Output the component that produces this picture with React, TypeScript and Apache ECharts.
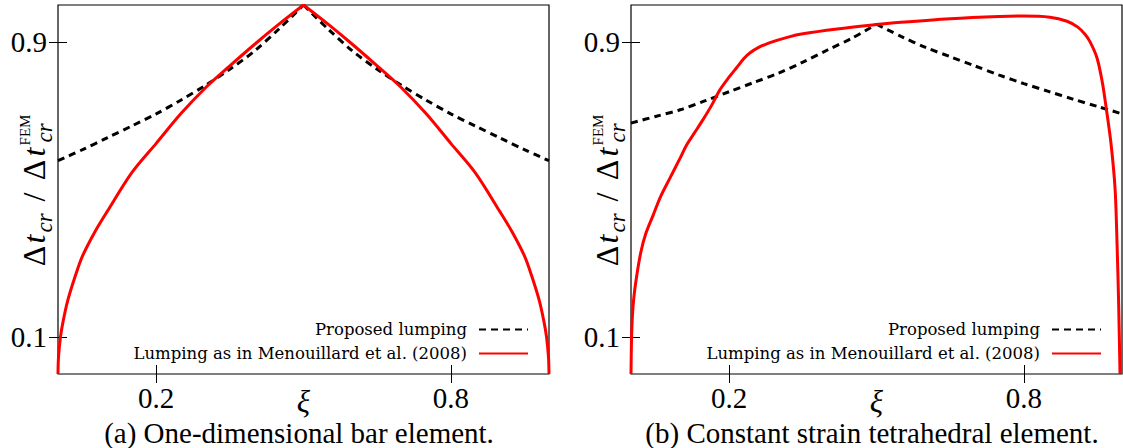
import React, { useEffect, useRef } from 'react';
import * as echarts from 'echarts';

// ---- tick labels / texts ----
const xTicks = [0.2, 0.8];
const yTicks = [0.1, 0.9];
const seriesNames = ['Proposed lumping', 'Lumping as in Menouillard et al. (2008)'];
const captions = ['(a) One-dimensional bar element.', '(b) Constant strain tetrahedral element.'];
const xName = 'ξ';

// ---- panel (a): one-dimensional bar element ----
const barProposedXi = [0, 0.05, 0.1, 0.15, 0.2, 0.25, 0.3, 0.35, 0.4, 0.45, 0.5, 0.55, 0.6, 0.65, 0.7, 0.75, 0.8, 0.85, 0.9, 0.95, 1];
const barProposed = [0.578, 0.608, 0.64, 0.672, 0.705, 0.742, 0.782, 0.826, 0.875, 0.935, 1.0, 0.935, 0.875, 0.826, 0.782, 0.742, 0.705, 0.672, 0.64, 0.608, 0.578];
const barMenXi = [0, 0.001, 0.005, 0.01, 0.02, 0.035, 0.05, 0.075, 0.1, 0.15, 0.2, 0.25, 0.3, 0.35, 0.4, 0.45, 0.5, 0.55, 0.6, 0.65, 0.7, 0.75, 0.8, 0.85, 0.9, 0.925, 0.95, 0.965, 0.98, 0.99, 0.995, 0.999, 1];
const barMen = [0, 0.045, 0.1, 0.14, 0.2, 0.265, 0.32, 0.385, 0.44, 0.545, 0.625, 0.705, 0.775, 0.835, 0.893, 0.948, 1.0, 0.948, 0.893, 0.835, 0.775, 0.705, 0.625, 0.545, 0.44, 0.385, 0.32, 0.265, 0.2, 0.14, 0.1, 0.045, 0];

// ---- panel (b): constant strain tetrahedral element ----
const tetProposedXi = [0, 0.05, 0.1, 0.15, 0.2, 0.25, 0.3, 0.35, 0.4, 0.45, 0.5, 0.55, 0.6, 0.65, 0.7, 0.75, 0.8, 0.85, 0.9, 0.95, 1];
const tetProposed = [0.68, 0.698, 0.716, 0.74, 0.765, 0.79, 0.815, 0.845, 0.878, 0.91, 0.948, 0.915, 0.885, 0.86, 0.835, 0.81, 0.787, 0.766, 0.745, 0.725, 0.705];
const tetMenXi = [0, 0.001, 0.003, 0.006, 0.0115, 0.02, 0.03, 0.045, 0.06, 0.079, 0.1, 0.113, 0.13, 0.147, 0.165, 0.181, 0.2, 0.215, 0.23, 0.242, 0.26, 0.283, 0.32, 0.35, 0.42, 0.487, 0.55, 0.65, 0.75, 0.8, 0.853, 0.888, 0.91, 0.925, 0.935, 0.949, 0.96, 0.969, 0.978, 0.986, 0.99, 0.993, 0.996];
const tetMen = [0, 0.09, 0.16, 0.21, 0.265, 0.33, 0.38, 0.43, 0.48, 0.53, 0.585, 0.62, 0.655, 0.69, 0.73, 0.77, 0.805, 0.83, 0.855, 0.87, 0.885, 0.898, 0.913, 0.922, 0.935, 0.945, 0.953, 0.963, 0.969, 0.97, 0.967, 0.956, 0.94, 0.92, 0.9, 0.857, 0.79, 0.71, 0.62, 0.5, 0.35, 0.2, 0];

const pairs = (xs: number[], ys: number[]) => xs.map((x, i) => [x, ys[i]]);

// split a curve at its (sharp) maximum so each branch can be smoothed separately
const splitAtPeak = (xs: number[], ys: number[]) => {
  const k = ys.indexOf(Math.max(...ys));
  return [pairs(xs.slice(0, k + 1), ys.slice(0, k + 1)), pairs(xs.slice(k), ys.slice(k))];
};

const SERIF = 'Liberation Serif';
const LEGEND_FONT = 'DejaVu Serif';

export default function App() {
  const ref = useRef<HTMLDivElement>(null);

  useEffect(() => {
    document.body.style.margin = '0';
    if (!ref.current) return;
    const chart = echarts.init(ref.current, undefined, { renderer: 'svg' });

    const panels = [
      { left: 58, proposed: splitAtPeak(barProposedXi, barProposed), men: splitAtPeak(barMenXi, barMen), caption: captions[0], capX: 299, legendRight: 594 },
      { left: 631, proposed: splitAtPeak(tetProposedXi, tetProposed), men: [pairs(tetMenXi, tetMen)], caption: captions[1], capX: 872, legendRight: 21 },
    ];
    const W = 491;
    const H = 369;
    const TOP = 5;

    const grid: any[] = [];
    const xAxis: any[] = [];
    const yAxis: any[] = [];
    const series: any[] = [];
    const legend: any[] = [];
    const graphic: any[] = [];

    const tick = { inside: true, length: 9, lineStyle: { color: '#000', width: 1 } };

    panels.forEach((p, i) => {
      grid.push({ left: p.left, top: TOP, width: W, height: H, show: true, borderColor: '#000', borderWidth: 1.2, backgroundColor: 'transparent' });
      xAxis.push({
        gridIndex: i, type: 'value', min: 0, max: 1, position: 'bottom',
        name: xName, nameLocation: 'middle', nameGap: 12, nameMoveOverlap: false,
        nameTextStyle: { fontFamily: SERIF, fontStyle: 'italic', fontSize: 31, color: '#000', verticalAlign: 'top' },
        axisLine: { show: false }, splitLine: { show: false },
        axisTick: { ...tick, customValues: xTicks },
        axisLabel: { customValues: xTicks, margin: 9, fontFamily: SERIF, fontSize: 29, color: '#000' },
      });
      xAxis.push({
        gridIndex: i, type: 'value', min: 0, max: 1, position: 'top',
        axisLine: { show: false }, splitLine: { show: false },
        axisTick: { ...tick, customValues: xTicks },
        axisLabel: { show: false },
      });
      yAxis.push({
        gridIndex: i, type: 'value', min: 0, max: 1, position: 'left',
        axisLine: { show: false }, splitLine: { show: false },
        axisTick: { ...tick, customValues: yTicks },
        axisLabel: { customValues: yTicks, margin: 11, fontFamily: SERIF, fontSize: 29, color: '#000' },
      });
      yAxis.push({
        gridIndex: i, type: 'value', min: 0, max: 1, position: 'right',
        axisLine: { show: false }, splitLine: { show: false },
        axisTick: { ...tick, customValues: yTicks },
        axisLabel: { show: false },
      });
      p.proposed.forEach((d) => series.push({
        name: seriesNames[0], type: 'line', xAxisIndex: 2 * i, yAxisIndex: 2 * i,
        data: d, showSymbol: false, symbol: 'none', smooth: 0.3,
        lineStyle: { color: '#000', width: 3, type: [7, 5] }, itemStyle: { color: '#000' }, z: 2,
      }));
      p.men.forEach((d) => series.push({
        name: seriesNames[1], type: 'line', xAxisIndex: 2 * i, yAxisIndex: 2 * i,
        data: d, showSymbol: false, symbol: 'none', smooth: 0.3,
        lineStyle: { color: '#ff0000', width: 3, type: 'solid' }, itemStyle: { color: '#ff0000' }, z: 3,
      }));
      legend.push({
        orient: 'vertical', right: p.legendRight, top: 321, align: 'right',
        itemWidth: 49, itemHeight: 14, itemGap: 7, padding: 0, selectedMode: false,
        itemStyle: { color: 'rgba(0,0,0,0)', opacity: 0, borderWidth: 0 },
        textStyle: { fontFamily: LEGEND_FONT, fontSize: 16.5, color: '#000', lineHeight: 14, padding: [0, 7, 0, 0] },
        data: seriesNames,
      });
      graphic.push({
        type: 'text', x: p.capX, y: 433,
        style: { text: p.caption, fill: '#000', fontFamily: SERIF, fontSize: 29, align: 'center', verticalAlign: 'middle' },
      });

      // rotated y-axis title: Δt_cr / Δt_cr^FEM
      const base = 45; // screen x of main baseline
      const pieces = [
        { t: 'Δ', along: 12, shift: 0, size: 32, style: 'normal' },
        { t: 't', along: 29, shift: 0, size: 32, style: 'italic' },
        { t: 'cr', along: 45, shift: 7, size: 23, style: 'italic' },
        { t: '/', along: 71, shift: 0, size: 32, style: 'normal' },
        { t: 'Δ', along: 98, shift: 0, size: 32, style: 'normal' },
        { t: 't', along: 116, shift: 0, size: 32, style: 'italic' },
        { t: 'cr', along: 135, shift: 7, size: 23, style: 'italic' },
        { t: 'FEM', along: 138, shift: -15, size: 15, style: 'normal' },
      ];
      graphic.push({
        type: 'group', x: p.left - 58, y: 268, rotation: Math.PI / 2,
        children: pieces.map((pc) => ({
          type: 'text', x: pc.along, y: base + pc.shift - 0.34 * pc.size,
          style: { text: pc.t, fill: '#000', fontFamily: SERIF, fontSize: pc.size, fontStyle: pc.style, align: 'center', verticalAlign: 'middle' },
        })),
      });
    });

    chart.setOption({
      animation: false,
      backgroundColor: '#fff',
      grid, xAxis, yAxis, series, legend, graphic,
    });

    return () => chart.dispose();
  }, []);

  return <div ref={ref} style={{ width: 1123, height: 448 }} />;
}
